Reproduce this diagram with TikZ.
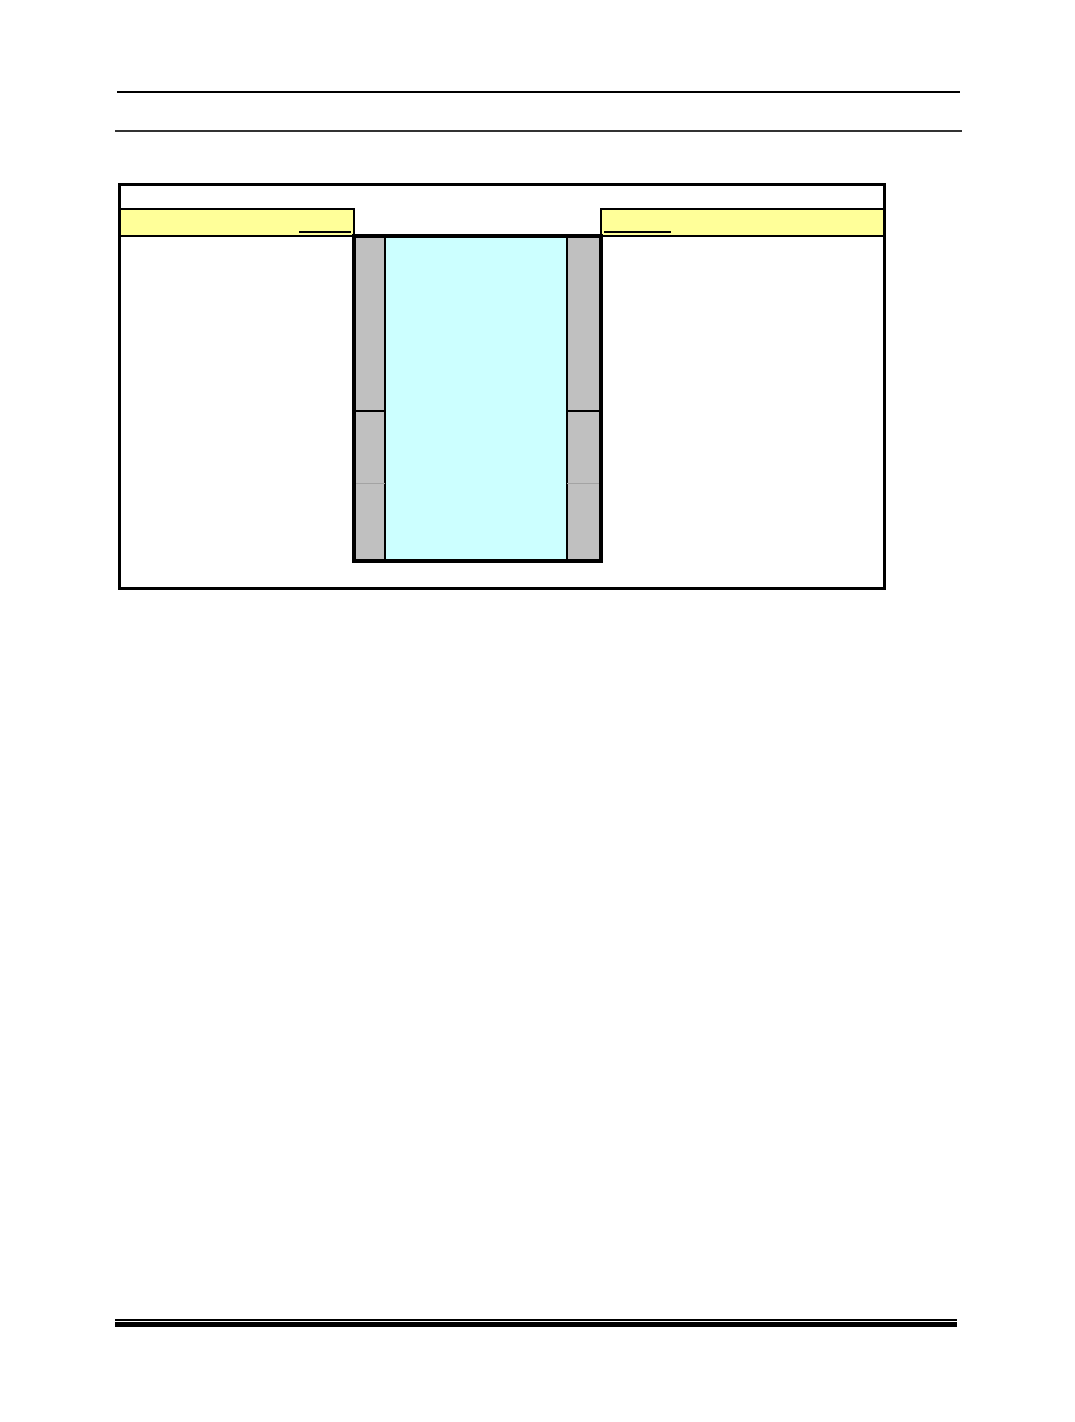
\documentclass[tikz,border=0pt]{standalone}
\usepackage{tikz}
\usetikzlibrary{positioning}
\definecolor{padyellow}{HTML}{FFFF99}
\definecolor{wellcyan}{HTML}{CCFFFF}
\definecolor{wallgray}{HTML}{C0C0C0}

\begin{document}
\begin{tikzpicture}[x=1pt, y=-1pt, every node/.style={inner sep=0pt, outer sep=0pt}]
    % Styles for boxes and rules
    \tikzstyle{frame} = [rectangle, draw, line width=3pt, anchor=north west, minimum width=765pt, minimum height=404pt]
    \tikzstyle{padbar} = [rectangle, draw, line width=1.5pt, fill=padyellow, anchor=north west, minimum height=27pt]
    \tikzstyle{wall} = [rectangle, draw, line width=1.2pt, fill=wallgray, anchor=north west]
    \tikzstyle{well} = [rectangle, draw, line width=1.2pt, fill=wellcyan, minimum width=182pt, minimum height=325pt]
    \tikzstyle{rule} = [line width=1.2pt]

    \useasboundingbox (0,0) rectangle (1075,1422);

    % Header rules
    \draw[rule] (117,92) -- (960,92);
    \draw[line width=2pt, black!80] (115,131) -- (962,131);

    % Nodes
    \node[frame] (outer) at (119,184) {};
    \node[padbar, minimum width=234pt] (leftpad) at (120,209) {};
    \node[padbar, minimum width=283pt] (rightpad) at (601,209) {};
    \node[wall, minimum width=31pt, minimum height=175pt] (leftupper) at (354,236) {};
    \node[wall, minimum width=31pt, minimum height=150pt, below=0pt of leftupper.south west, anchor=north west] (leftlower) {};
    \node[well, right=0pt of leftupper.north east, anchor=north west] (shaft) {};
    \node[wall, minimum width=34pt, minimum height=175pt, right=0pt of shaft.north east, anchor=north west] (rightupper) {};
    \node[wall, minimum width=34pt, minimum height=150pt, below=0pt of rightupper.south west, anchor=north west] (rightlower) {};

    % Short rules in the yellow bars
    \draw[rule] (299,232) -- (351,232);
    \draw[rule] (604,232) -- (671,232);

    % Faint joints in the walls
    \draw[wallgray!85!black, line width=0.6pt] (leftlower.west |- 0,483) -- (leftlower.east |- 0,483);
    \draw[wallgray!85!black, line width=0.6pt] (rightlower.west |- 0,483) -- (rightlower.east |- 0,483);

    % Heavy outline of the column
    \draw[line width=4pt] (leftupper.north west) rectangle (rightlower.south east);

    % Footer rules
    \draw[rule] (115,1320) -- (957,1320);
    \draw[line width=5pt] (115,1324.5) -- (957,1324.5);
\end{tikzpicture}
\end{document}
